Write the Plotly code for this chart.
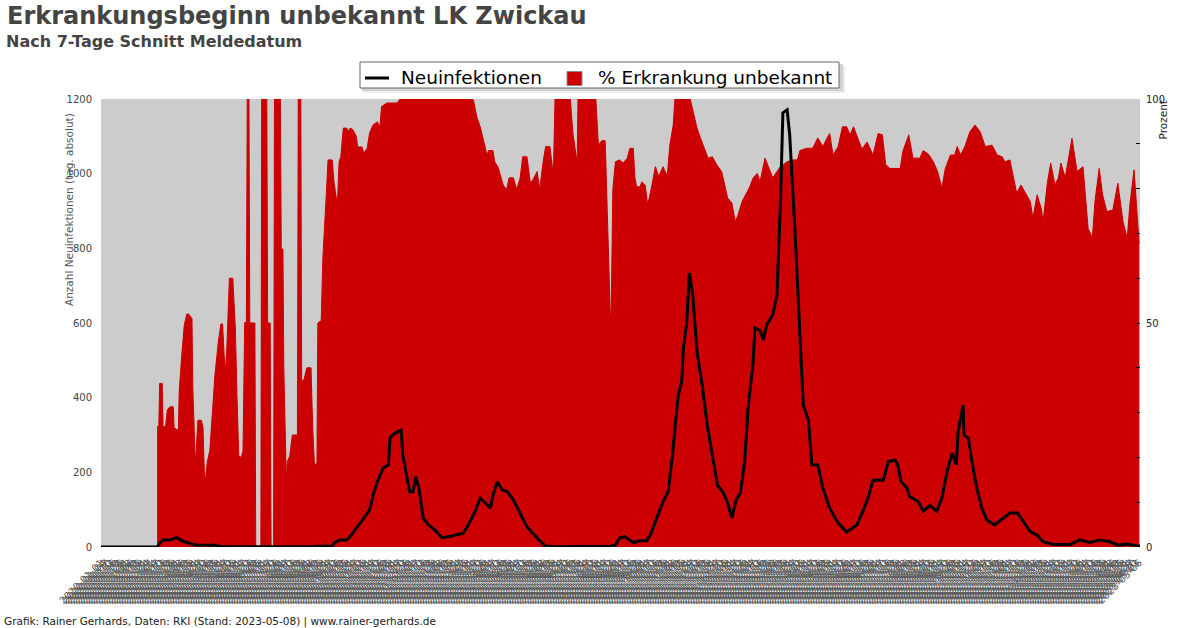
import pandas as pd
import plotly.graph_objects as go

# ---------------- data ----------------
start_date = "2020-01-01"
end_date = "2023-05-07"

# % Erkrankung unbekannt (days since 2020-01-01, percent)
pct_day = [66, 68, 69, 72, 73, 76, 78, 81, 85, 86,
           91, 92, 95, 98, 101, 103, 107, 108, 111, 113,
           114, 118, 120, 122, 125, 128, 131, 134, 138, 141,
           143, 146, 148, 151, 155, 158, 160, 162, 165, 167,
           169, 171, 172, 174, 175, 181, 182, 188, 189, 195,
           196, 199, 200, 203, 204, 211, 212, 214, 215, 218,
           219, 222, 225, 231, 232, 235, 236, 239, 242, 247,
           249, 251, 254, 255, 259, 260, 261, 265, 267, 272,
           274, 278, 280, 282, 285, 289, 291, 293, 296, 300,
           302, 307, 309, 313, 316, 320, 325, 328, 330, 336,
           348, 352, 434, 438, 442, 446, 449, 454, 456, 461,
           463, 467, 473, 477, 480, 485, 489, 493, 496, 501,
           505, 508, 513, 516, 520, 523, 528, 532, 534, 552,
           555, 560, 561, 582, 585, 589, 593, 595, 597, 599,
           600, 602, 605, 610, 614, 619, 622, 626, 628, 630,
           634, 636, 640, 643, 648, 652, 656, 661, 666, 669,
           673, 675, 693, 696, 701, 705, 710, 714, 719, 725,
           730, 734, 737, 742, 746, 749, 754, 760, 763, 767,
           772, 775, 781, 785, 790, 795, 799, 807, 813, 819,
           822, 830, 837, 843, 849, 854, 857, 861, 867, 872,
           877, 881, 885, 890, 895, 901, 904, 908, 914, 919,
           923, 928, 940, 943, 950, 955, 963, 967, 973, 979,
           984, 989, 993, 999, 1004, 1007, 1011, 1016, 1022, 1028,
           1034, 1040, 1048, 1054, 1060, 1063, 1069, 1073, 1077, 1082,
           1087, 1093, 1096, 1101, 1106, 1108, 1113, 1117, 1122, 1126,
           1129, 1134, 1142, 1148, 1155, 1161, 1166, 1169, 1174, 1178,
           1183, 1190, 1196, 1202, 1207, 1210, 1215, 1218, 1221]
pct_value = [26.9, 26.9, 36.5, 36.5, 26.9, 26.9, 30.6, 31.3, 31.3, 26.6,
             26.0, 34.7, 42.9, 49.6, 52.0, 52.0, 51.0, 35.4, 18.3, 26.6,
             28.3, 28.3, 26.6, 13.5, 19.0, 21.6, 31.0, 38.4, 45.8, 49.8,
             49.8, 38.4, 44.4, 60.0, 60.0, 48.9, 33.3, 20.3, 20.0, 21.4,
             50.1, 50.1, 100, 100, 50, 50, 0, 0, 100, 100,
             50, 50, 0, 0, 100, 100, 66.5, 66.5, 40, 14.3,
             19, 20.3, 25, 25, 100, 100, 36.9, 37.5, 40, 40,
             26.6, 18.5, 18.5, 50, 50.5, 56, 64.7, 78.8, 86.4, 86.4,
             81.5, 76.3, 86, 87.1, 93.5, 93.5, 92.8, 93.5, 93.2, 91.8,
             89.3, 89.3, 87.9, 89, 92.5, 94.2, 94.9, 93.8, 98.3, 99.1,
             99.1, 100, 100, 99.8, 96, 93.8, 91.3, 87.5, 88.5, 88.5,
             86, 84.8, 80.8, 79.8, 82.4, 82.4, 79.8, 82.4, 87.1, 87.1,
             81.2, 82, 83.8, 79.8, 86, 89.4, 89.4, 83, 100, 100,
             92.4, 85.7, 100, 100, 89.7, 90.7, 90.7, 75.7, 60.7, 51.8,
             52, 80, 86, 86.4, 85.7, 86.8, 89, 89, 82.4, 80.4,
             80.4, 81.5, 80.8, 76.3, 80.8, 84.9, 82.7, 84.9, 82.8, 89.7,
             94.2, 100, 100, 97.5, 93.5, 91.3, 89, 86.8, 87.1, 85.1,
             83.8, 80.4, 77.9, 76.8, 72.6, 74.0, 77.1, 79.3, 80.4, 82.4,
             83.4, 81.5, 86.8, 84.9, 82.4, 83.8, 84.9, 86, 86.4, 86.4,
             88.5, 89, 89, 91.3, 89.4, 91.3, 92.3, 87.5, 89.4, 93.8,
             93.8, 92.0, 93.8, 91.3, 88.8, 90.4, 89, 87.5, 92.3, 92,
             85.3, 84.5, 84.5, 88.3, 92, 86.8, 86.8, 88.5, 87.7, 86,
             83.8, 80.1, 84.5, 87.5, 87.5, 89.4, 87.5, 89.4, 92.7, 94.2,
             92.7, 89.4, 89.7, 87.5, 87.1, 86, 86.4, 82.4, 79, 80.8,
             79, 77.1, 73.4, 78.6, 75.5, 72.6, 81.2, 85.7, 80.8, 82.4,
             85.7, 82.4, 91.2, 83.8, 84.9, 71.1, 69, 77.1, 84.5, 78.6,
             74.9, 75.2, 81.2, 72.6, 68.9, 76.3, 84.2, 76.5, 67.6]

# Neuinfektionen, 7-Tage-Schnitt (days since 2020-01-01, cases)
case_day = [0, 66, 69, 73, 81, 89, 96, 105, 113, 132,
            140, 152, 249, 254, 272, 275, 281, 289, 293, 301,
            308, 313, 316, 320, 325, 332, 338, 340, 343, 349,
            353, 355, 360, 363, 367, 370, 374, 379, 385, 393,
            401, 410, 426, 432, 440, 446, 452, 458, 461, 466,
            472, 478, 485, 493, 501, 513, 522, 536, 599, 605,
            610, 616, 626, 634, 642, 646, 654, 661, 667, 672,
            675, 679, 683, 685, 689, 692, 696, 701, 707, 713,
            719, 725, 732, 737, 742, 747, 752, 757, 761, 767,
            769, 775, 779, 783, 790, 795, 799, 802, 807, 810,
            816, 822, 826, 832, 836, 843, 849, 857, 867, 877,
            889, 896, 902, 908, 920, 926, 934, 937, 941, 948,
            951, 961, 967, 975, 983, 989, 995, 1001, 1006, 1008,
            1014, 1015, 1020, 1025, 1030, 1036, 1042, 1051, 1061, 1069,
            1078, 1084, 1093, 1101, 1108, 1120, 1140, 1151, 1163, 1175,
            1187, 1196, 1207, 1218, 1222]
case_value = [0, 0, 10, 19, 19, 25, 16, 9, 5, 5,
              2, 1, 1, 2, 3, 12, 19, 19, 28, 51,
              74, 90, 100, 139, 175, 212, 220, 292, 300, 309,
              313, 246, 185, 148, 148, 188, 158, 78, 59, 45,
              25, 28, 37, 59, 95, 131, 118, 104, 139, 175,
              153, 148, 126, 91, 54, 24, 3, 1, 2, 5,
              24, 28, 12, 17, 17, 32, 78, 121, 148, 242,
              319, 407, 443, 533, 604, 734, 675, 523, 434, 327,
              246, 166, 145, 118, 78, 126, 145, 229, 372, 496,
              587, 580, 555, 595, 622, 675, 916, 1163, 1171, 1104,
              855, 587, 380, 340, 220, 220, 158, 104, 64, 40,
              59, 95, 131, 179, 179, 229, 233, 220, 175, 158,
              135, 122, 96, 111, 96, 131, 202, 252, 220, 309,
              380, 300, 292, 220, 158, 104, 72, 59, 78, 91,
              91, 72, 41, 32, 14, 7, 7, 19, 12, 19,
              14, 5, 8, 3, 3]

left_ticks = [0, 200, 400, 600, 800, 1000, 1200]
right_ticks = [0, 10, 20, 30, 40, 50, 60, 70, 80, 90, 100]
right_ticktext = ["0", "", "", "", "", "50", "", "", "", "", "100"]

series_names = ["Neuinfektionen", "% Erkrankung unbekannt"]
title_text = "Erkrankungsbeginn unbekannt LK Zwickau"
subtitle_text = "Nach 7-Tage Schnitt Meldedatum"
footer_text = "Grafik: Rainer Gerhards, Daten: RKI (Stand: 2023-05-08) | www.rainer-gerhards.de"

# ---------------- build ----------------
all_dates = pd.date_range(start_date, end_date, freq="D")
n_days = len(all_dates) - 1
label_step = 3
tick_pos = list(range(0, n_days + 1, label_step))
tick_labels = [all_dates[i].strftime("%Y-%m-%d") for i in tick_pos]

FONT = "DejaVu Sans"
RED = "#cc0000"

fig = go.Figure()
fig.add_trace(go.Scatter(
    x=pct_day, y=pct_value, name=series_names[1],
    mode="lines", line=dict(color=RED, width=1), fill="tozeroy",
    fillcolor=RED, yaxis="y", showlegend=False,
))
fig.add_trace(go.Scatter(
    x=case_day, y=case_value, name=series_names[0],
    mode="lines", line=dict(color="black", width=3), yaxis="y2",
    showlegend=False,
))

L, R, T, B = 101, 60, 99, 81
W, H = 1200, 628
pw, ph = W - L - R, H - T - B

def px(x):
    return (x - L) / pw

def py(y):
    return (H - B - y) / ph

fig.update_layout(
    width=W, height=H,
    margin=dict(l=L, r=R, t=T, b=B, autoexpand=False),
    paper_bgcolor="white", plot_bgcolor="#cccccc",
    font=dict(family=FONT, color="#444444"),
    showlegend=False,
    xaxis=dict(
        type="linear", range=[0, n_days],
        tickmode="array", tickvals=tick_pos, ticktext=tick_labels,
        tickangle=-45, tickfont=dict(size=10, color="#5a5a5a"),
        showgrid=False, zeroline=False, ticks="", showline=False,
        ticklabelstandoff=7, automargin=False,
    ),
    yaxis=dict(
        side="right", range=[0, 100], tickmode="array",
        tickvals=right_ticks, ticktext=right_ticktext,
        ticks="inside", ticklen=4, tickcolor="black",
        tickfont=dict(size=10, color="#222222"),
        showgrid=False, zeroline=False, showline=False,
        ticklabelstandoff=5, automargin=False,
    ),
    yaxis2=dict(
        side="left", overlaying="y", range=[0, 1200],
        tickmode="array", tickvals=left_ticks,
        ticks="", tickfont=dict(size=10, color="#444444"),
        showgrid=False, zeroline=False, showline=False,
        ticklabelstandoff=8, automargin=False,
    ),
)

# legend drawn by hand (box with soft shadow)
def rect(x0, y0, x1, y1, **kw):
    d = dict(type="rect", xref="paper", yref="paper",
             x0=px(x0), x1=px(x1), y0=py(y0), y1=py(y1))
    d.update(kw)
    return d

shapes = [
    rect(363, 66, 845, 93, fillcolor="#ececec", line=dict(width=0)),
    rect(362, 64, 843, 91, fillcolor="#d2d2d2", line=dict(width=0)),
    rect(360, 62, 839, 88, fillcolor="white", line=dict(color="#666666", width=1)),
    dict(type="line", xref="paper", yref="paper", x0=px(365), x1=px(389),
         y0=py(78), y1=py(78), line=dict(color="black", width=3)),
    rect(567, 71.5, 582, 85.5, fillcolor=RED, line=dict(color="#888888", width=1)),
]
fig.update_layout(shapes=shapes)

annotations = [
    dict(text="<b>" + title_text + "</b>", x=px(5), y=py(0), xanchor="left",
         yanchor="top", font=dict(size=24, color="#444444", family=FONT)),
    dict(text="<b>" + subtitle_text + "</b>", x=px(4), y=py(30), xanchor="left",
         yanchor="top", font=dict(size=16, color="#444444", family=FONT)),
    dict(text=footer_text, x=px(2), y=py(621), xanchor="left", yanchor="middle",
         font=dict(size=10.5, color="#222222", family=FONT)),
    dict(text="Anzahl Neuinfektionen (tag. absolut)", x=px(68.5), y=py(111),
         xanchor="center", yanchor="top", textangle=-90,
         font=dict(size=10.5, color="#555555", family=FONT)),
    dict(text="Prozent", x=px(1162), y=py(99), xanchor="center", yanchor="top",
         textangle=-90, font=dict(size=10.5, color="#222222", family=FONT)),
    dict(text=series_names[0], x=px(399), y=py(77), xanchor="left",
         yanchor="middle", font=dict(size=18.5, color="black", family=FONT)),
    dict(text=series_names[1], x=px(596), y=py(77), xanchor="left",
         yanchor="middle", font=dict(size=18.5, color="black", family=FONT)),
]
for a in annotations:
    a.update(xref="paper", yref="paper", showarrow=False)
fig.update_layout(annotations=annotations)

fig.write_html("out.html", config={"displayModeBar": False},
               post_script="document.body.style.margin='0px';")
